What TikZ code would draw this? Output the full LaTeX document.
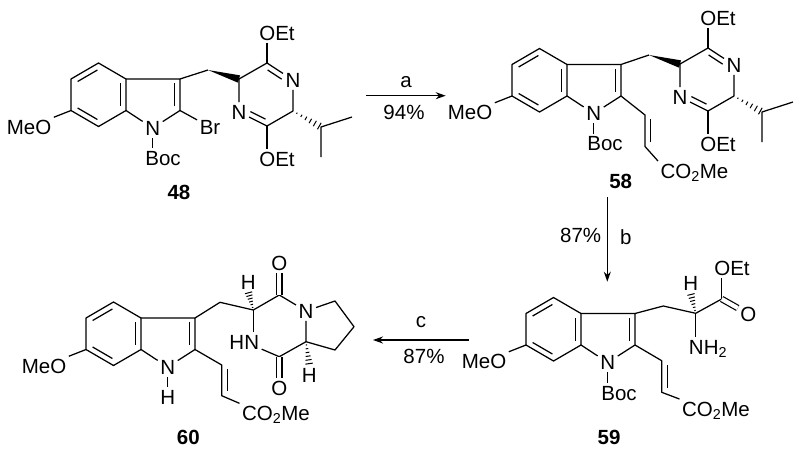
\documentclass[tikz,border=0pt]{standalone}
\usepackage{fontspec}
\setmainfont{Liberation Sans}
\usetikzlibrary{arrows.meta,positioning,calc}

\newcommand{\innerbond}[4][.14]{\draw ($(#2)!.14!(#3)!5.5pt!#4:(#3)$) -- ($(#3)!#1!(#2)!5.5pt!#4:(#3)$);}
\newcommand{\wedgebond}[2]{\fill (#1) -- ($(#2)!3.8pt!90:(#1)$) -- ($(#2)!3.8pt!-90:(#1)$) -- cycle;}
\newcommand{\hashbond}[2]{\foreach \t/\w in {.14/.7,.3/1.3,.46/1.9,.62/2.5,.78/3.1,.94/3.7} {\draw[line width=1pt] ($(#1)!\t!(#2)!\w pt!90:(#2)$) -- ($(#1)!\t!(#2)!\w pt!-90:(#2)$);}}
\newcommand{\indole}[2]{%
    \begin{scope}[shift={(#1,#2)}]
        \coordinate (a) at (71,79);
        \coordinate (b) at (98.5,63);
        \coordinate (c) at (126,79);
        \coordinate (d) at (126,110.5);
        \coordinate (e) at (98.5,126.5);
        \coordinate (f) at (71,110.5);
        \coordinate (c3) at (180,79);
        \coordinate (c2) at (180,110.5);
        \node[atom] (meo) at (29,127) {MeO};
        \node[atom] (n) at (152.7,128) {N};
        \draw (meo) -- (f) -- (a) -- (b) -- (c) -- (d) -- (e) -- (f);
        \draw (d) -- (n) -- (c2) -- (c3) -- (c);
        \innerbond{a}{b}{-90}
        \innerbond{c}{d}{-90}
        \innerbond{e}{f}{-90}
        \innerbond{c2}{c3}{90}
    \end{scope}}
\newcommand{\pyrazine}[2]{%
    \begin{scope}[shift={(#1,#2)}]
        \coordinate (ch2) at (208,70);
        \coordinate (ca) at (239,79);
        \coordinate (cb) at (267,63);
        \coordinate (cd) at (293,111);
        \coordinate (ce) at (267,126);
        \coordinate (iso) at (321,127);
        \coordinate (me1) at (352,117);
        \coordinate (me2) at (321,157);
        \node[atom] (n1) at (293,80) {N};
        \node[atom] (n2) at (239,112) {N};
        \node[atom] (oet1) at (277,33) {OEt};
        \node[atom] (oet2) at (277,159) {OEt};
        \draw (c3) -- (ch2);
        \wedgebond{ch2}{ca}
        \draw (n2) -- (ca) -- (cb) -- (n1) -- (cd) -- (ce) -- (n2);
        \innerbond[.32]{cb}{n1}{-90}
        \innerbond[.32]{ce}{n2}{-90}
        \draw (cb) -- (cb |- oet1.south);
        \draw (ce) -- (ce |- oet2.north);
        \hashbond{cd}{iso}
        \draw (me1) -- (iso) -- (me2);
    \end{scope}}

\begin{document}
\begin{tikzpicture}[
    x=1pt, y=-1pt,
    line width=1.25pt, line join=round,
    atom/.style={font=\fontsize{20.5}{24}\selectfont, inner sep=2pt, text height=14.7pt, text depth=0pt},
    cmpd/.style={font=\fontsize{20.5}{24}\selectfont\bfseries, inner sep=0pt},
    reagent/.style={font=\fontsize{20.5}{24}\selectfont, inner sep=0pt},
    arrow/.style={-{Stealth[length=10pt,width=7pt]}, line width=1.2pt},
    dbl/.style={double, double distance=4.2pt, line width=1.2pt}
]
    \useasboundingbox (0,0) rectangle (800,453);

    % Compound 48
    \begin{scope}[name prefix=m48-]
        \indole{0}{0}
        \pyrazine{0}{0}
        \node[atom] (br) at (210,127) {Br};
        \node[atom] (boc) at (163,158) {Boc};
        \draw (c2) -- (br);
        \draw (n) -- (n |- boc.north);
    \end{scope}
    \node[cmpd] (lbl48) at (179,192) {48};

    % Compound 58
    \begin{scope}[name prefix=m58-]
        \indole{441}{-14.5}
        \pyrazine{441}{-15}
        \coordinate (v1) at (645,115);
        \coordinate (v2) at (645,146.5);
        \node[atom] (boc) at (605,143.5) {Boc};
        \node[atom, anchor=west] (co2) at (658,171) {CO\textsubscript{2}Me};
        \draw (n) -- (n |- boc.north);
        \draw (c2) -- (v1) -- (v2) -- (co2.north west);
        \innerbond{v1}{v2}{90}
    \end{scope}
    \node[cmpd] (lbl58) at (620.7,181.7) {58};

    % Compound 59
    \begin{scope}[name prefix=m59-]
        \indole{455}{234.5}
        \coordinate (v1) at (661.7,360.7);
        \coordinate (v2) at (661.7,392.3);
        \coordinate (ch2) at (663.3,306);
        \coordinate (ch) at (695.7,313.3);
        \coordinate (co) at (721.7,299);
        \node[atom] (boc) at (619,393.3) {Boc};
        \node[atom, anchor=west] (co2) at (679.5,409) {CO\textsubscript{2}Me};
        \node[atom] (oet) at (732,268.3) {OEt};
        \node[atom] (ox) at (748.3,314) {O};
        \node[atom] (h) at (690.7,283.3) {H};
        \node[atom] (nh2) at (708,347) {NH\textsubscript{2}};
        \draw (n) -- (n |- boc.north);
        \draw (c2) -- (v1) -- (v2) -- (co2.north west);
        \innerbond{v1}{v2}{90}
        \draw (c3) -- (ch2) -- (ch) -- (co);
        \draw (co) -- (co |- oet.south);
        \draw[dbl] (co) -- (ox);
        \draw (ch) -- (ch |- nh2.north);
        \hashbond{ch}{h.south}
    \end{scope}
    \node[cmpd] (lbl59) at (609,437.3) {59};

    % Compound 60
    \begin{scope}[name prefix=m60-]
        \indole{15}{239}
        \coordinate (v1) at (221.7,365);
        \coordinate (v2) at (221.7,395.7);
        \coordinate (ch2) at (220,302.3);
        \coordinate (ch) at (253.3,310);
        \coordinate (co1) at (279.3,295);
        \coordinate (co2c) at (279.3,356.7);
        \coordinate (cq) at (306,341.7);
        \coordinate (p1) at (335,301);
        \coordinate (p2) at (354,326.7);
        \coordinate (p3) at (335,350);
        \node[atom] (nh) at (167.7,396.7) {H};
        \node[atom, anchor=west] (co2) at (239.5,413.3) {CO\textsubscript{2}Me};
        \node[atom] (o1) at (279.3,263.3) {O};
        \node[atom] (o2) at (279.3,388.3) {O};
        \node[atom] (np) at (306,311) {N};
        \node[atom] (hn) at (244.3,341.7) {HN};
        \node[atom] (h1) at (248.3,281.7) {H};
        \node[atom] (h2) at (309.3,375) {H};
        \draw (n) -- (nh);
        \draw (c2) -- (v1) -- (v2) -- (co2.north west);
        \innerbond{v1}{v2}{90}
        \draw (c3) -- (ch2) -- (ch) -- (co1) -- (np) -- (cq) -- (co2c) -- (hn);
        \draw (ch) -- (ch |- hn.north);
        \draw (np) -- (p1) -- (p2) -- (p3) -- (cq);
        \draw[dbl] (co1) -- (o1);
        \draw[dbl] (co2c) -- (o2);
        \hashbond{ch}{h1.south}
        \hashbond{cq}{h2.north}
    \end{scope}
    \node[cmpd] (lbl60) at (188.3,437.3) {60};

    % Reaction arrows
    \coordinate (a1) at (366,95.7);
    \coordinate (a2) at (445.7,95.7);
    \coordinate (b1) at (607.3,197);
    \coordinate (b2) at (607.3,281.7);
    \coordinate (c1) at (469,340);
    \coordinate (c2) at (373,340);
    \draw[arrow] (a1) -- (a2);
    \draw[arrow] (b1) -- (b2);
    \draw[arrow] (c1) -- (c2);
    \node[reagent] (rga) at (406,82) {a};
    \node[reagent] (yda) at (404,112) {94\%};
    \node[reagent] (ydb) at (580.7,235) {87\%};
    \node[reagent] (rgb) at (625.7,237) {b};
    \node[reagent] (rgc) at (421,322) {c};
    \node[reagent] (ydc) at (424,356) {87\%};
\end{tikzpicture}
\end{document}
